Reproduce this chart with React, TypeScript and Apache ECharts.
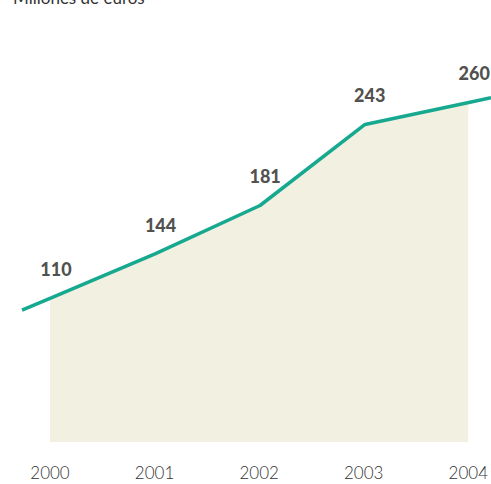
import React, { useEffect, useRef } from "react";
import * as echarts from "echarts";

const years = ["2000", "2001", "2002", "2003", "2004"];
const values = [110, 144, 181, 243, 260];
const unitLabel = "Millones de euros";

// decorative extension of the line beyond first/last year (fraction of a year)
const extLeft = 0.267;
const extRight = 0.2;

export default function App() {
  const ref = useRef<HTMLDivElement>(null);
  useEffect(() => {
    if (!ref.current) return;
    const chart = echarts.init(ref.current, undefined, { renderer: "svg" });
    const pts = values.map((v, i) => [i, v]);
    const n = values.length;
    const slopeL = values[1] - values[0];
    const slopeR = values[n - 1] - values[n - 2];
    const lineData = [
      [-extLeft, values[0] - slopeL * extLeft],
      ...pts,
      [n - 1 + extRight, values[n - 1] + slopeR * extRight],
    ];
    chart.setOption({
      animation: false,
      grid: [
        { left: 50, right: 21, top: 50, bottom: 42 },
        { left: 22, right: 0, top: 50, bottom: 42 },
      ],
      xAxis: [
        {
          type: "value",
          gridIndex: 0,
          min: 0,
          max: n - 1,
          interval: 1,
          axisLine: { show: false },
          axisTick: { show: false },
          splitLine: { show: false },
          axisLabel: {
            formatter: (v: number) => years[v] ?? "",
            color: "#333",
            fontFamily: "Lato",
            fontWeight: 300,
            fontSize: 17,
            margin: 22,
          },
        },
        {
          type: "value",
          gridIndex: 1,
          min: -extLeft,
          max: n - 1 + extRight,
          show: false,
        },
      ],
      yAxis: [
        { type: "value", gridIndex: 0, min: 0, max: 300, show: false },
        { type: "value", gridIndex: 1, min: 0, max: 300, show: false },
      ],
      graphic: [
        {
          type: "text",
          x: 13,
          y: 6,
          style: {
            text: unitLabel,
            fontFamily: "Lato",
            fontSize: 17,
            fill: "#333",
            verticalAlign: "bottom",
          },
        },
      ],
      series: [
        {
          type: "line",
          xAxisIndex: 0,
          yAxisIndex: 0,
          data: pts,
          symbol: "none",
          lineStyle: { width: 0 },
          areaStyle: { color: "#f2f0e0", opacity: 1 },
          z: 1,
        },
        {
          type: "line",
          xAxisIndex: 1,
          yAxisIndex: 1,
          data: lineData,
          symbol: "none",
          lineStyle: { color: "#16a98f", width: 3.5 },
          z: 2,
        },
        {
          type: "scatter",
          xAxisIndex: 0,
          yAxisIndex: 0,
          data: pts,
          symbolSize: 0,
          label: {
            show: true,
            position: "top",
            distance: 20,
            formatter: (p: any) => String(p.value[1]),
            color: "#231f20",
            fontFamily: "Lato",
            fontWeight: 900,
            fontSize: 18,
            offset: [6, 0],
          },
          z: 3,
        },
      ],
    });
    return () => chart.dispose();
  }, []);
  return (
    <div
      ref={ref}
      style={{ position: "absolute", left: 0, top: 0, width: 491, height: 484 }}
    />
  );
}
